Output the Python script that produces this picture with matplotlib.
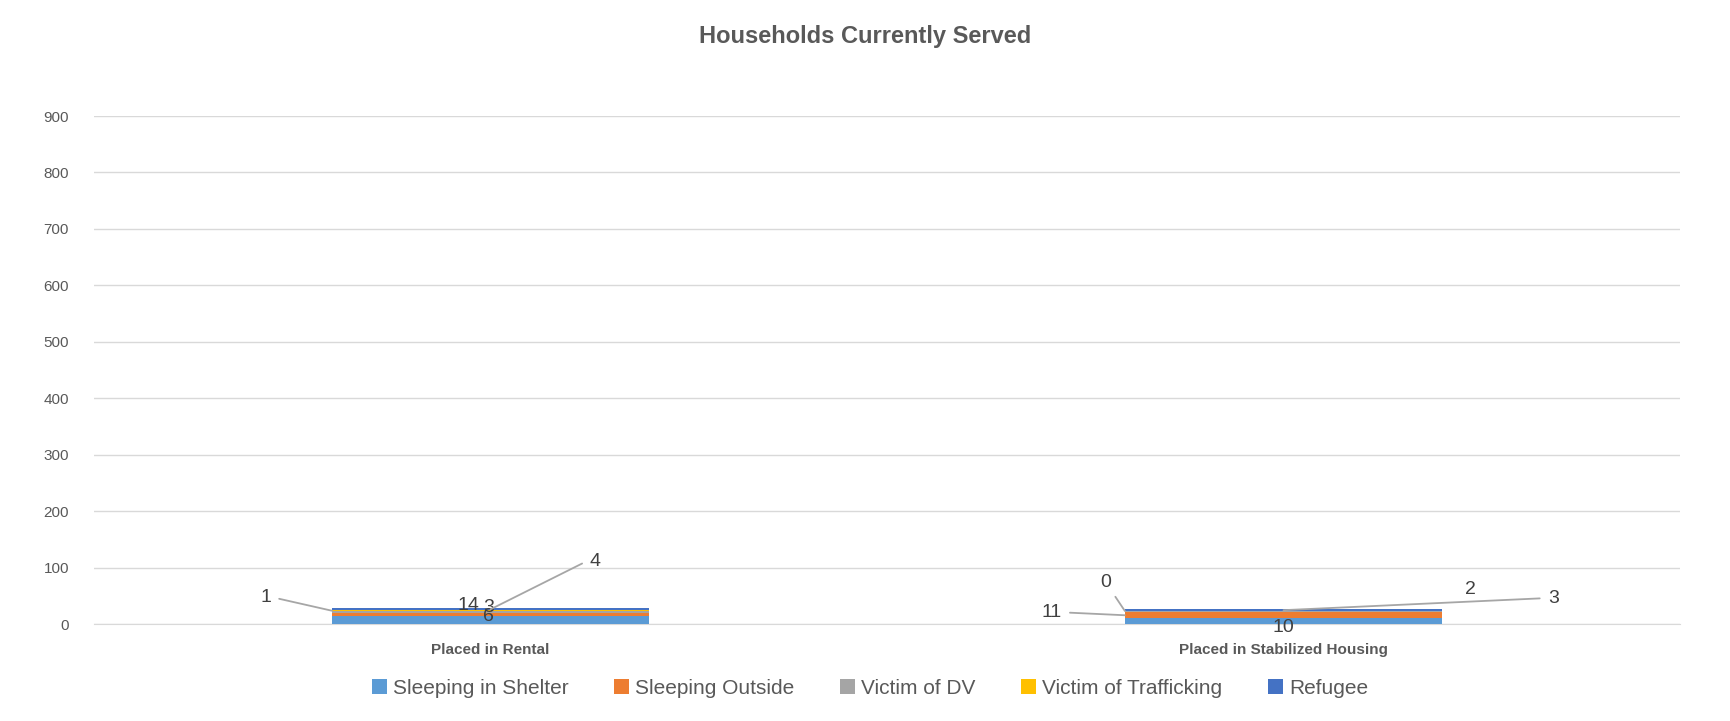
import matplotlib
matplotlib.use("Agg")
import matplotlib.pyplot as plt
import numpy as np

categories = ["Placed in Rental", "Placed in Stabilized Housing"]
series = ["Sleeping in Shelter", "Sleeping Outside", "Victim of DV",
          "Victim of Trafficking", "Refugee"]
shelter = [14, 10]
outside = [6, 11]
dv = [3, 2]
trafficking = [1, 0]
refugee = [4, 3]
values = [shelter, outside, dv, trafficking, refugee]
colors = ["#5B9BD5", "#ED7D31", "#A5A5A5", "#FFC000", "#4472C4"]

# label placement: (dx, dy offset px from segment centre, leader arm direction or None, anchor)
# anchor 'c' = leader to segment centre, 'l' = leader to bar left edge
label_pos = [
    [(-22, 15, None, "c"), (-2, -2, None, "c"), (-2, 4, None, "c"),
     (-225, 13, 0, "l"), (105, 48, 180, "c")],
    [(0, -6, None, "c"), (-232, 3, 0, "l"), (187, 22, None, "c"),
     (-178, 29, "s", "l"), (270, 12, 180, "c")],
]

plt.rcParams["font.family"] = ["Liberation Sans Narrow", "Liberation Sans", "DejaVu Sans"]
txt = "#595959"

fig = plt.figure(figsize=(17.3, 7.21), dpi=100)
ax = fig.add_axes([94 / 1730, 1 - 624 / 721, 1586 / 1730, 508 / 721])

x = np.arange(len(categories))
width = 0.4
bottom = np.zeros(len(categories))
for name, vals, col in zip(series, values, colors):
    ax.bar(x, vals, width, bottom=bottom, color=col, label=name, zorder=3)
    bottom += np.array(vals)

bottom = np.zeros(len(categories))
for s, vals in enumerate(values):
    for c in range(len(categories)):
        dx, dy, leader, anchor = label_pos[c][s]
        mid = bottom[c] + vals[c] / 2
        cx = x[c]
        xy = (cx - width / 2, mid) if anchor == "l" else (cx, mid)
        if anchor == "l":
            dx = dx + width / 2 * 793
        props = None
        if leader == "s":
            props = dict(arrowstyle="-", color="#A6A6A6", lw=1.3,
                         shrinkA=3, shrinkB=0)
        elif leader is not None:
            props = dict(arrowstyle="-", color="#A6A6A6", lw=1.3,
                         shrinkA=4, shrinkB=0,
                         connectionstyle=f"arc,angleA={leader},armA=9,angleB=0,armB=0,rad=0")
        ax.annotate(str(vals[c]), xy=xy, xytext=(dx, dy),
                    textcoords="offset pixels", ha="center", va="center",
                    fontsize=14, color="#404040", arrowprops=props, zorder=5)
    bottom += np.array(vals)

ax.set_xlim(-0.5, 1.5)
ax.set_ylim(0, 900)
ax.set_yticks(range(0, 1000, 100))
ax.set_xticks(x)
ax.set_xticklabels(categories, fontsize=11, fontweight="bold", color=txt)
ax.tick_params(axis="y", labelsize=11, labelcolor=txt, length=0, pad=18)
ax.tick_params(axis="x", length=0, pad=14)
ax.grid(axis="y", color="#D9D9D9", linewidth=1, zorder=0)
for sp in ["top", "right", "left"]:
    ax.spines[sp].set_visible(False)
ax.spines["bottom"].set_color("#D9D9D9")

fig.suptitle("Households Currently Served", x=0.5, y=1 - 36 / 721, va="center",
             fontsize=17, fontweight="bold", color=txt)

fig.legend(loc="center", bbox_to_anchor=(0.503, 1 - 688 / 721), ncol=5,
           frameon=False, fontsize=15, labelcolor=txt, handlelength=0.7,
           handleheight=0.7, handletextpad=0.3, columnspacing=2.2)

fig.savefig("out.png", dpi=100)
